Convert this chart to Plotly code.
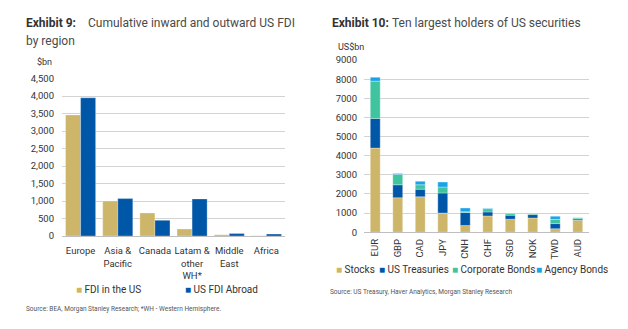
import plotly.graph_objects as go

# Exhibit 9: cumulative inward / outward US FDI by region ($bn)
regions = ["Europe", "Asia &<br>Pacific", "Canada", "Latam &<br>other<br>WH*", "Middle<br>East", "Africa"]
fdi_in_us = [3460, 1000, 660, 200, 40, 10]
us_fdi_abroad = [3950, 1070, 450, 1060, 70, 55]

# Exhibit 10: ten largest holders of US securities (US$bn)
holders = ["EUR", "GBP", "CAD", "JPY", "CNH", "CHF", "SGD", "NOK", "TWD", "AUD"]
stocks = [4400, 1800, 1850, 1000, 350, 850, 680, 740, 180, 620]
treasuries = [1550, 680, 400, 1050, 680, 210, 210, 180, 270, 70]
corp_bonds = [1950, 540, 230, 310, 40, 170, 100, 50, 220, 50]
agency_bonds = [200, 50, 180, 260, 190, 20, 10, 20, 160, 20]

TAN = "#CDB66A"
BLUE = "#0057A8"
TEAL = "#40C4A0"
SKY = "#1BA3E8"
FONT = "Roboto"
W, H = 628, 329

fig = go.Figure()

edge = dict(color="rgba(255,255,255,0.6)", width=0.5)

fig.add_trace(go.Bar(x=regions, y=fdi_in_us, name="FDI in the US", marker=dict(color=TAN, line=edge),
                     offsetgroup="in", xaxis="x", yaxis="y"))
fig.add_trace(go.Bar(x=regions, y=us_fdi_abroad, name="US FDI Abroad", marker=dict(color=BLUE, line=edge),
                     offsetgroup="out", xaxis="x", yaxis="y"))

# stacked columns built from running bases
series = [("Stocks", stocks, TAN), ("US Treasuries", treasuries, BLUE),
          ("Corporate Bonds", corp_bonds, TEAL), ("Agency Bonds", agency_bonds, SKY)]
base = [0] * len(holders)
for name, vals, col in series:
    fig.add_trace(go.Bar(x=holders, y=vals, base=list(base), name=name, width=0.44,
                         marker=dict(color=col, line=edge), offsetgroup="stack",
                         xaxis="x2", yaxis="y2"))
    base = [b + v for b, v in zip(base, vals)]

def px_x(p):
    return p / W

def px_y(p):
    return 1 - p / H

grid = "#d3d3d3"
fig.update_layout(
    width=W, height=H, margin=dict(l=0, r=0, t=0, b=0),
    paper_bgcolor="white", plot_bgcolor="white",
    barmode="group", bargap=0.19, bargroupgap=0,
    showlegend=False,
    font=dict(family=FONT, size=9, color="#333333"),
    xaxis=dict(domain=[px_x(62), px_x(285)], anchor="y", showline=True, linecolor="#bfbfbf",
               linewidth=1, ticks="", tickfont=dict(size=9.5, color="#333333"), tickangle=0,
               ticklabelstandoff=6, fixedrange=True),
    yaxis=dict(domain=[px_y(238), px_y(75)], range=[0, 4500], dtick=500, tickformat=",d",
               showgrid=True, gridcolor=grid, gridwidth=1, zeroline=False, ticks="",
               ticklabelstandoff=7, tickfont=dict(size=9.5, color="#333333"), anchor="x"),
    xaxis2=dict(domain=[px_x(364), px_x(589)], anchor="y2", showline=True, linecolor="#bfbfbf",
                linewidth=1, ticks="", tickangle=-90, ticklabelstandoff=2,
                tickfont=dict(size=9.5, color="#333333")),
    yaxis2=dict(domain=[px_y(234), px_y(56)], range=[0, 9000], dtick=1000, tickformat="d",
                showgrid=True, gridcolor=grid, gridwidth=1, zeroline=False, ticks="",
                ticklabelstandoff=6, tickfont=dict(size=9.5, color="#333333"), anchor="x2"),
)

def note(x, y, text, size=9, color="#333333", xanchor="left", yanchor="middle"):
    fig.add_annotation(x=px_x(x), y=px_y(y), xref="paper", yref="paper", text=text,
                       showarrow=False, xanchor=xanchor, yanchor=yanchor, align="left",
                       font=dict(family=FONT, size=size, color=color))

# headings
note(24, 18, "<b>Exhibit 9:</b>", size=12, color="#333333")
note(86, 18, "Cumulative inward and outward US FDI", size=12, color="#4a4a4a")
note(24, 36, "by region", size=12, color="#4a4a4a")
note(330, 18, "<b>Exhibit 10:</b>", size=12, color="#333333")
note(390, 18, "Ten largest holders of US securities", size=12, color="#4a4a4a")

# axis units
note(35, 58, "$bn", size=9)
note(336, 42, "US$bn", size=9)

# legends
def key(x, y, col, label, size=10):
    note(x, y, f"<span style='color:{col}'>■</span> {label}", size=size)

key(74, 293, TAN, "FDI in the US")
key(183, 293, BLUE, "US FDI Abroad")
key(334, 273, TAN, "Stocks")
key(377, 273, BLUE, "US Treasuries")
key(450, 273, TEAL, "Corporate Bonds")
key(534, 273, SKY, "Agency Bonds")

# sources
note(24, 313, "Source: BEA, Morgan Stanley Research; *WH - Western Hemisphere.", size=6.5, color="#555555")
note(328, 296, "Source: US Treasury, Haver Analytics, Morgan Stanley Research", size=6.5, color="#555555")

fig.write_html("out.html")
